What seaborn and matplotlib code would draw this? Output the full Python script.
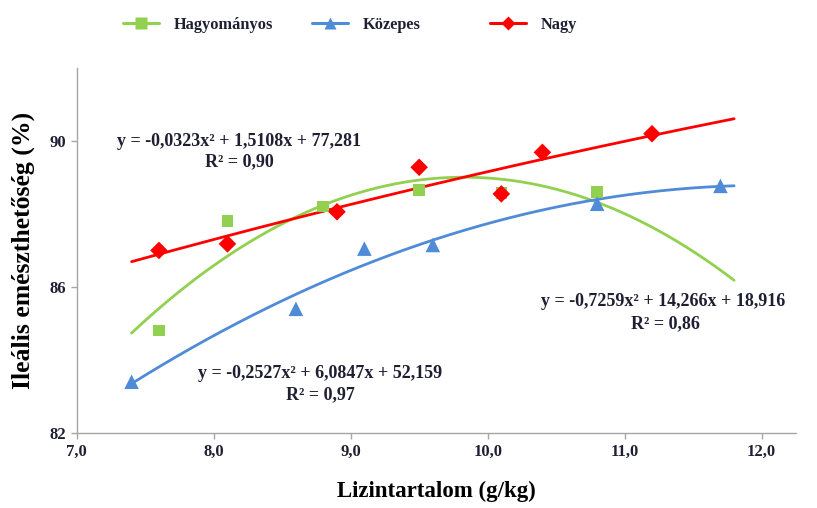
import numpy as np
import pandas as pd
import matplotlib
matplotlib.use("Agg")
import matplotlib.pyplot as plt
from matplotlib.lines import Line2D
import seaborn as sns

# Data
hagy_x = [7.6, 8.1, 8.8, 9.5, 10.1, 10.8]
hagy_y = [84.8, 87.8, 88.2, 88.65, 88.58, 88.6]
koz_x = [7.4, 8.6, 9.1, 9.6, 10.8, 11.7]
koz_y = [83.4, 85.4, 87.05, 87.15, 88.28, 88.77]
nagy_x = [7.6, 8.1, 8.9, 9.5, 10.1, 10.4, 11.2]
nagy_y = [87.0, 87.18, 88.06, 89.28, 88.55, 89.69, 90.2]

# Trend-line coefficients (a, b, c) as printed on the chart
hagy_coef = [-0.7259, 14.266, 18.916]
koz_coef = [-0.2527, 6.0847, 52.159]
nagy_coef = [-0.0323, 1.5108, 77.281]
trend_range = [7.4, 11.8]

series_names = ["Hagyományos", "Közepes", "Nagy"]
equations = ["y = -0,7259x² + 14,266x + 18,916",
             "y = -0,2527x² + 6,0847x + 52,159",
             "y = -0,0323x² + 1,5108x + 77,281"]
r2_labels = ["R² = 0,86", "R² = 0,97", "R² = 0,90"]

colors = {"Hagyományos": "#92D050", "Közepes": "#4F8BD6", "Nagy": "#FF0000"}
markers = {"Hagyományos": "s", "Közepes": "^", "Nagy": "D"}

x_ticks = [7.0, 8.0, 9.0, 10.0, 11.0, 12.0]
x_ticklabels = ["7,0", "8,0", "9,0", "10,0", "11,0", "12,0"]
y_ticks = [82, 86, 90]

sns.set_theme(style="white")
plt.rcParams["font.family"] = ["Liberation Serif", "DejaVu Serif"]

W, H = 817, 508
fig = plt.figure(figsize=(W / 100, H / 100), dpi=100)
ax = fig.add_axes([0.094, 0.148, 0.88, 0.718])

pts = pd.concat([
    pd.DataFrame({"x": hagy_x, "y": hagy_y, "s": "Hagyományos"}),
    pd.DataFrame({"x": koz_x, "y": koz_y, "s": "Közepes"}),
    pd.DataFrame({"x": nagy_x, "y": nagy_y, "s": "Nagy"}),
])

xs = np.linspace(trend_range[0], trend_range[1], 200)
curves = []
for name, coef in zip(series_names, [hagy_coef, koz_coef, nagy_coef]):
    curves.append(pd.DataFrame({"x": xs, "y": np.polyval(coef, xs), "s": name}))
curves = pd.concat(curves)

sns.lineplot(data=curves, x="x", y="y", hue="s", palette=colors, linewidth=2.0,
             ax=ax, legend=False, zorder=2)
sizes = {"Hagyományos": 70, "Közepes": 110, "Nagy": 80}
for name in series_names:
    sub = pts[pts.s == name]
    sns.scatterplot(data=sub, x="x", y="y", color=colors[name], marker=markers[name],
                    s=sizes[name], edgecolor="none", ax=ax, legend=False, zorder=3)

txt_color = "#1F1F33"
ax.set_xlim(7.0, 12.25)
ax.set_ylim(82, 92)
ax.set_xticks(x_ticks)
ax.set_xticklabels(x_ticklabels, fontsize=12, fontweight="bold", color=txt_color)
ax.set_yticks(y_ticks)
ax.set_yticklabels([str(t) for t in y_ticks], fontsize=12, fontweight="bold", color=txt_color)
ax.tick_params(axis="both", direction="out", length=4, width=1, color="#A6A6A6", pad=4,
               bottom=True, left=True)
for sp in ["top", "right"]:
    ax.spines[sp].set_visible(False)
for sp in ["left", "bottom"]:
    ax.spines[sp].set_color("#A6A6A6")
    ax.spines[sp].set_linewidth(1.0)

ax.set_xlabel("Lizintartalom (g/kg)", fontsize=16.5, fontweight="bold", labelpad=15, color="black")
ax.set_ylabel("Ileális emészthetőség (%)", fontsize=18.5, fontweight="bold", labelpad=10, color="black")

def ftext(px, py, s, size=13):
    fig.text(px / W, 1 - py / H, s, fontsize=size, fontweight="bold",
             ha="center", va="center", color=txt_color)

# equation labels (Hagyományos, Közepes, Nagy)
eq_pos = [(663, 302), (320, 373), (239, 141)]
r2_pos = [(665, 324), (320, 395), (239, 162)]
for e, r, ep, rp in zip(equations, r2_labels, eq_pos, r2_pos):
    ftext(ep[0], ep[1], e)
    ftext(rp[0], rp[1], r)

# legend: three entries at fixed positions along the top
leg_x = [123, 312, 490]
for name, lx in zip(series_names, leg_x):
    h = Line2D([0], [0], color=colors[name], marker=markers[name],
               markersize=8 if name != "Nagy" else 7, linewidth=2.2, markeredgecolor="none")
    fig.legend([h], [name], loc="center left", bbox_to_anchor=(lx / W, 1 - 25 / H),
               frameon=False, borderpad=0, borderaxespad=0, handlelength=2.2,
               handletextpad=0.9,
               prop={"family": ["Liberation Serif"], "weight": "bold", "size": 11.8},
               labelcolor=txt_color)

fig.savefig("out.png", dpi=100)
